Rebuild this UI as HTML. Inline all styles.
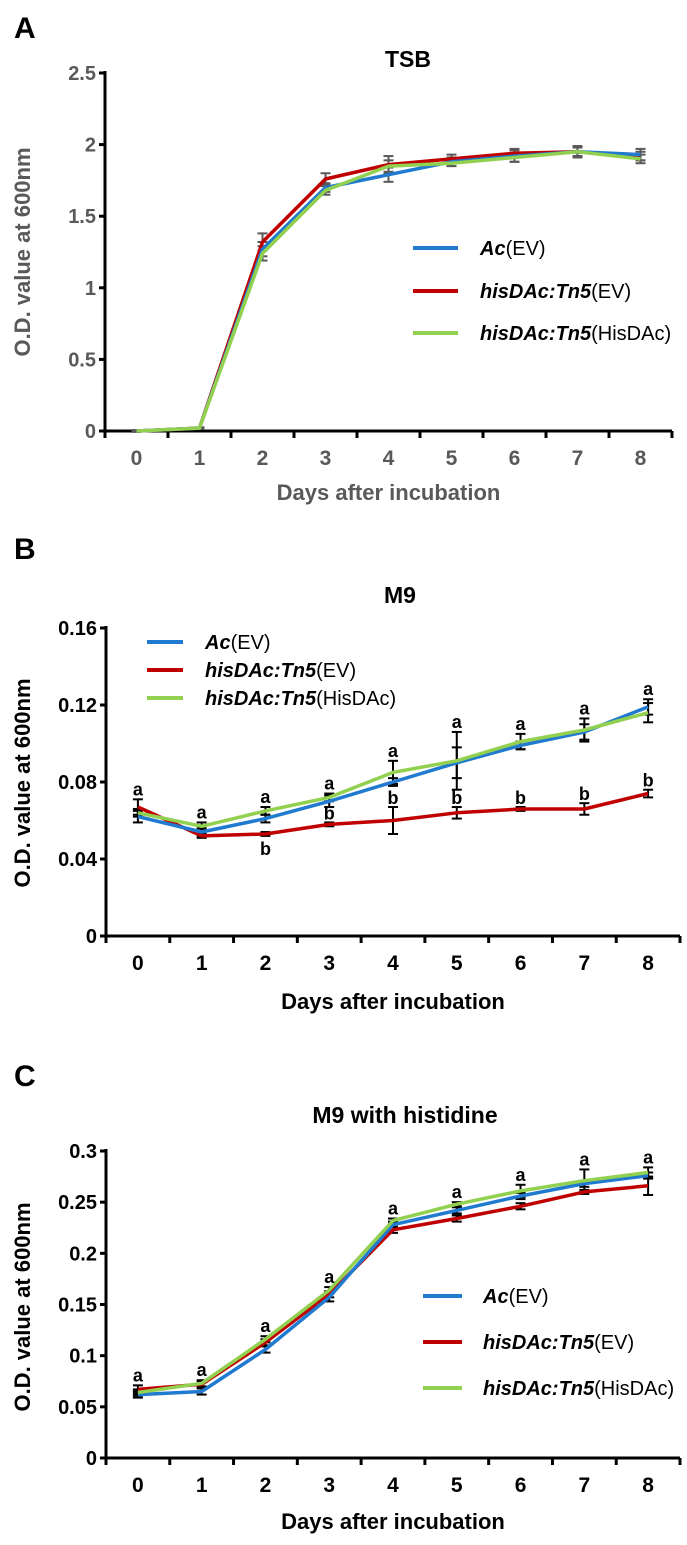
<!DOCTYPE html>
<html><head><meta charset="utf-8">
<style>
html,body{margin:0;padding:0;background:#fff;}
svg{display:block;font-family:"Liberation Sans",Arial,sans-serif;}
</style></head>
<body>
<svg id="fig" width="687" height="1545" viewBox="0 0 687 1545" xmlns="http://www.w3.org/2000/svg"></svg>
<script>
// ---------- data ----------
const days = [0,1,2,3,4,5,6,7,8];
const seriesNames = ["Ac(EV)","hisDAc:Tn5(EV)","hisDAc:Tn5(HisDAc)"];
// Panel A (TSB)
const tsbAc   = [0,0.02,1.27,1.70,1.79,1.88,1.92,1.95,1.93];
const tsbMut  = [0,0.02,1.32,1.76,1.86,1.90,1.94,1.95,1.92];
const tsbComp = [0,0.02,1.24,1.68,1.85,1.87,1.91,1.95,1.90];
const tsbAcErr   = [0.005,0.005,0.05,0.03,0.05,0.03,0.04,0.03,0.04];
const tsbMutErr  = [0.005,0.005,0.06,0.04,0.06,0.03,0.03,0.03,0.03];
const tsbCompErr = [0.005,0.005,0.05,0.03,0.04,0.02,0.03,0.04,0.03];
const tsbTicks = [0,0.5,1,1.5,2,2.5];
const tsbTickLabels = ["0","0.5","1","1.5","2","2.5"];
// Panel B (M9)
const m9Ac   = [0.062,0.054,0.061,0.070,0.080,0.090,0.099,0.106,0.119];
const m9Mut  = [0.067,0.052,0.053,0.058,0.060,0.064,0.066,0.066,0.074];
const m9Comp = [0.064,0.057,0.065,0.072,0.085,0.091,0.101,0.107,0.116];
const m9AcErr   = [0.003,0.002,0.002,0.003,0.002,0.008,0.002,0.004,0.004];
const m9MutErr  = [0.004,0.001,0.001,0.001,0.007,0.003,0.001,0.003,0.002];
const m9CompErr = [0.002,0.002,0.002,0.002,0.006,0.015,0.004,0.006,0.005];
const m9Ticks = [0,0.04,0.08,0.12,0.16];
const m9TickLabels = ["0","0.04","0.08","0.12","0.16"];
const m9LettersTop = ["a","a","a","a","a","a","a","a","a"];
const m9LettersRed = ["","","b","b","b","b","b","b","b"];
// Panel C (M9 + histidine)
const hisAc   = [0.062,0.065,0.106,0.157,0.228,0.242,0.256,0.268,0.276];
const hisMut  = [0.067,0.072,0.113,0.160,0.223,0.234,0.246,0.260,0.266];
const hisComp = [0.064,0.073,0.116,0.164,0.232,0.248,0.261,0.271,0.279];
const hisAcErr   = [0.003,0.003,0.003,0.004,0.003,0.003,0.003,0.003,0.003];
const hisMutErr  = [0.004,0.003,0.003,0.003,0.003,0.003,0.003,0.002,0.009];
const hisCompErr = [0.003,0.003,0.003,0.003,0.002,0.002,0.006,0.011,0.005];
const hisTicks = [0,0.05,0.1,0.15,0.2,0.25,0.3];
const hisTickLabels = ["0","0.05","0.1","0.15","0.2","0.25","0.3"];
const hisLettersTop = ["a","a","a","a","a","a","a","a","a"];

// ---------- drawing ----------
const NS = "http://www.w3.org/2000/svg";
const svg = document.getElementById("fig");
const COLORS = ["#1f7ad0","#c00000","#92d050"];
function mk(tag, attrs, parent){
  const e = document.createElementNS(NS, tag);
  for (const k in attrs) e.setAttribute(k, attrs[k]);
  (parent||svg).appendChild(e); return e;
}
function chart(cfg){
  const g = mk("g", {});
  
  
  const x0 = cfg.x0, x1 = cfg.x1, yb = cfg.yb, yt = cfg.yt;
  const ymax = cfg.ticks[cfg.ticks.length-1];
  const step = (x1-x0)/days.length;
  const X = d => x0 + step*(d+0.5);
  const Y = v => yb - (v/ymax)*(yb-yt);
  const lab = mk("text",{x:14,y:cfg.labelY,"font-size":30,"font-weight":"bold",fill:"#000"},g);
  lab.textContent = cfg.letter;
  
  
  const t = mk("text",{x:cfg.titleX,y:cfg.titleY,"font-size":23,"font-weight":"bold","text-anchor":"middle",fill:"#000"},g);
  t.textContent = cfg.title;
  
  
  const ax = mk("g",{stroke:"#000","stroke-width":3},g);
  
  
  mk("line",{x1:x0,y1:yt-2,x2:x0,y2:yb+1.5},ax);
  mk("line",{x1:x0-1.5,y1:yb,x2:x1,y2:yb},ax);
  cfg.ticks.forEach((v,i)=>{
    mk("line",{x1:x0-6,y1:Y(v),x2:x0,y2:Y(v)},ax);
    const tl = mk("text",{x:x0-9,y:Y(v)+7,"font-size":20,"font-weight":"bold","text-anchor":"end",fill:cfg.tickColor},g);
    tl.textContent = cfg.tickLabels[i];
    
    
  });
  for (let k=0;k<=days.length;k++) mk("line",{x1:x0+step*k,y1:yb,x2:x0+step*k,y2:yb+7},ax);
  days.forEach(d=>{
    const tl = mk("text",{x:X(d),y:yb+34,"font-size":21,"font-weight":"bold","text-anchor":"middle",fill:cfg.tickColor},g);
    tl.textContent = String(d);
    
    
  });
  const xt = mk("text",{x:(x0+x1)/2,y:cfg.xTitleY,"font-size":22,"font-weight":"bold","text-anchor":"middle",fill:cfg.tickColor},g);
  xt.textContent = "Days after incubation";
  
  
  const yt2 = mk("text",{x:0,y:0,"font-size":22,"font-weight":"bold","text-anchor":"middle",fill:cfg.tickColor,transform:`translate(30,${cfg.yTitleY}) rotate(-90)`},g);
  yt2.textContent = "O.D. value at 600nm";
  
  
  const eb = mk("g",{stroke:cfg.errColor,"stroke-width":2},g);
  
  
  cfg.series.forEach((s,si)=>{
    s.forEach((v,i)=>{
      const e = cfg.errs[si][i], cx = X(days[i]);
      mk("line",{x1:cx,y1:Y(v+e),x2:cx,y2:Y(v-e)},eb);
      mk("line",{x1:cx-5,y1:Y(v+e),x2:cx+5,y2:Y(v+e)},eb);
      mk("line",{x1:cx-5,y1:Y(v-e),x2:cx+5,y2:Y(v-e)},eb);
    });
  });
  [1,0,2].forEach(si=>{
    const pts = cfg.series[si].map((v,i)=>X(days[i]).toFixed(1)+","+Y(v).toFixed(1)).join(" ");
    const pl = mk("polyline",{points:pts,fill:"none",stroke:COLORS[si],"stroke-width":3.5,"stroke-linejoin":"round"},g);
    
    
  });
  if (cfg.lettersTop){
    cfg.lettersTop.forEach((L,i)=>{
      let top = -1;
      cfg.series.forEach((s,si)=>{ top = Math.max(top, s[i]+cfg.errs[si][i]); });
      const tx = mk("text",{x:X(days[i]),y:Y(top)-4,"font-size":18,"font-weight":"bold","text-anchor":"middle",fill:"#000"},g);
      tx.textContent = L;
      
      
    });
  }
  if (cfg.lettersRed){
    cfg.lettersRed.forEach((L,i)=>{
      if(!L) return;
      const v = cfg.series[1][i], e = cfg.errs[1][i];
      const yy = (i===2) ? Y(v-e)+19 : Y(v+e)-3;
      const tx = mk("text",{x:X(days[i]),y:yy,"font-size":18,"font-weight":"bold","text-anchor":"middle",fill:"#000"},g);
      tx.textContent = L;
      
      
    });
  }
  const lg = mk("g",{},g);
  
  
  cfg.legendYs.forEach((ly,i)=>{
    mk("line",{x1:cfg.legendX1,y1:ly,x2:cfg.legendX2,y2:ly,stroke:COLORS[i],"stroke-width":4},lg);
    const tx = mk("text",{x:cfg.legendTX,y:ly+7,"font-size":20,fill:"#000"},lg);
    
    
    const nm = seriesNames[i], p = nm.indexOf("(");
    const it = mk("tspan",{"font-style":"italic","font-weight":"bold"},tx); it.textContent = nm.slice(0,p);
    const rs = mk("tspan",{},tx); rs.textContent = nm.slice(p);
  });
}
chart({name:"chart-tsb",letter:"A",labelY:38,title:"TSB",titleX:408,titleY:67,
  x0:105,x1:672,yb:431,yt:73,ticks:tsbTicks,tickLabels:tsbTickLabels,tickColor:"#595959",errColor:"#595959",
  xTitleY:500,yTitleY:252,series:[tsbAc,tsbMut,tsbComp],errs:[tsbAcErr,tsbMutErr,tsbCompErr],
  legendYs:[248,291,333],legendX1:413,legendX2:458,legendTX:480});
chart({name:"chart-m9",letter:"B",labelY:559,title:"M9",titleX:400,titleY:603,
  x0:106,x1:680,yb:936,yt:628,ticks:m9Ticks,tickLabels:m9TickLabels,tickColor:"#000",errColor:"#000",
  xTitleY:1009,yTitleY:783,series:[m9Ac,m9Mut,m9Comp],errs:[m9AcErr,m9MutErr,m9CompErr],
  lettersTop:m9LettersTop,lettersRed:m9LettersRed,
  legendYs:[642,670,698],legendX1:147,legendX2:183,legendTX:205});
chart({name:"chart-m9-histidine",letter:"C",labelY:1086,title:"M9 with histidine",titleX:405,titleY:1123,
  x0:106,x1:680,yb:1458,yt:1151,ticks:hisTicks,tickLabels:hisTickLabels,tickColor:"#000",errColor:"#000",
  xTitleY:1529,yTitleY:1307,series:[hisAc,hisMut,hisComp],errs:[hisAcErr,hisMutErr,hisCompErr],
  lettersTop:hisLettersTop,
  legendYs:[1296,1342,1388],legendX1:423,legendX2:462,legendTX:483});
</script>
</body></html>
